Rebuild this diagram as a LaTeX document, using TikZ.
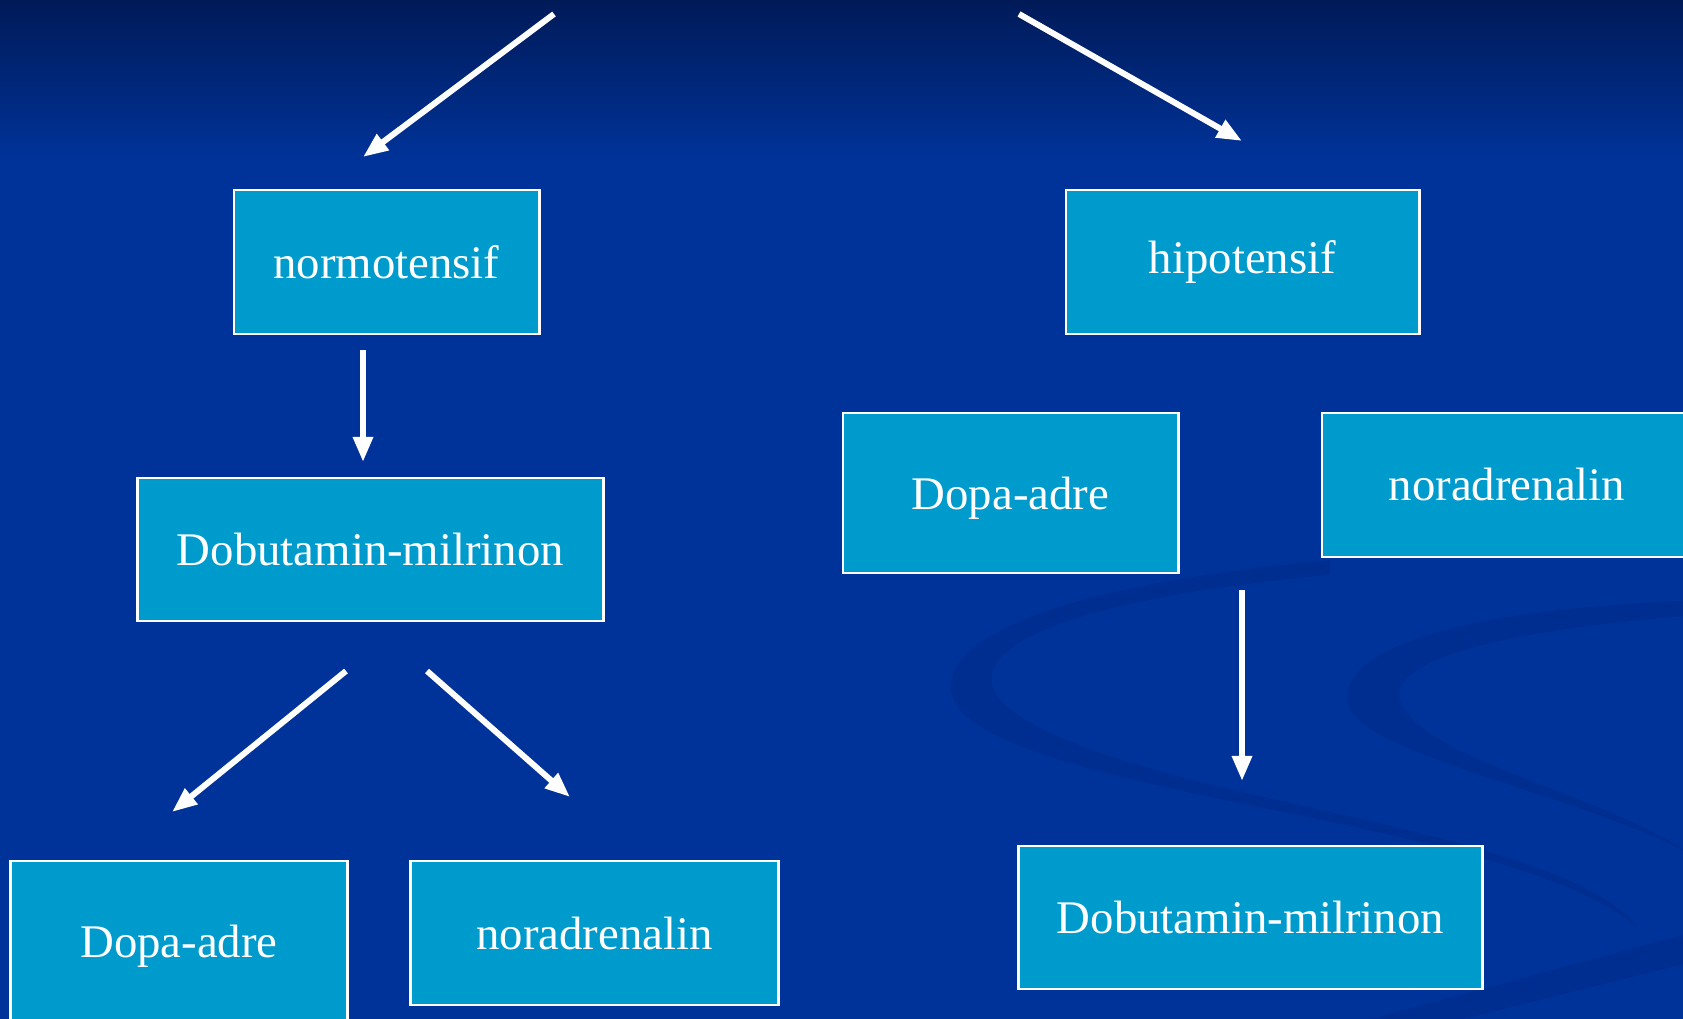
\documentclass[tikz,border=0pt]{standalone}
\usepackage{fontspec}
\setmainfont{Liberation Serif}
\usetikzlibrary{arrows.meta}
\definecolor{bgtop}{RGB}{0,26,88}
\definecolor{bgblue}{RGB}{0,51,153}
\definecolor{swoosh}{RGB}{0,44,138}
\definecolor{boxblue}{RGB}{0,155,205}
\tikzset{
    box/.style={draw=white, line width=0.8pt, fill=boxblue, text=white,
        font=\fontsize{13.3}{16}\selectfont, inner sep=0pt},
    tallbox/.style={box, text height=0.42cm},
    arr/.style={draw=white, line width=1.7pt, -{Triangle[length=0.25cm, width=0.19cm]}}
}
\begin{document}
\begin{tikzpicture}[x=0.01cm, y=-0.01cm]
    % Background
    \useasboundingbox (0,0) rectangle (1683,1019);
    \clip (0,0) rectangle (1683,1019);
    \fill[bgblue] (0,0) rectangle (1683,1019);
    \shade[top color=bgtop, bottom color=bgblue] (0,0) rectangle (1683,160);
    \fill[swoosh, opacity=0.6]
        (1330,560) .. controls (1000,590) and (920,660) .. (960,710)
        .. controls (1040,800) and (1520,820) .. (1640,930)
        .. controls (1560,820) and (1100,800) .. (1000,700)
        .. controls (960,650) and (1060,600) .. (1330,575) -- cycle;
    \fill[swoosh, opacity=0.6]
        (1700,600) .. controls (1420,610) and (1330,660) .. (1350,710)
        .. controls (1380,760) and (1600,800) .. (1700,860)
        .. controls (1600,790) and (1420,760) .. (1400,700)
        .. controls (1390,660) and (1500,630) .. (1700,615) -- cycle;
    \fill[swoosh, opacity=0.6] (1330,1030) -- (1700,930) -- (1700,960) -- (1420,1030) -- cycle;

    % Define boxes
    \node[box, minimum width=3.05cm, minimum height=1.44cm] (normo) at (386.5,262) {normotensif};
    \node[box, minimum width=3.53cm, minimum height=1.44cm] (hipo) at (1242.5,262) {hipotensif};
    \node[box, minimum width=4.65cm, minimum height=1.43cm] (dobL) at (370.5,549.5) {Dobutamin-milrinon};
    \node[tallbox, minimum width=3.35cm, minimum height=1.60cm] (dopaR) at (1010.5,493) {Dopa-adre};
    \node[box, minimum width=3.70cm, minimum height=1.44cm] (noraR) at (1507,485) {noradrenalin};
    \node[tallbox, minimum width=3.36cm, minimum height=1.60cm] (dopaL) at (179,941) {Dopa-adre};
    \node[box, minimum width=3.67cm, minimum height=1.44cm] (noraL) at (594.5,933) {noradrenalin};
    \node[box, minimum width=4.63cm, minimum height=1.43cm] (dobR) at (1250.5,917.5) {Dobutamin-milrinon};

    % Define arrow ends
    \coordinate (t1) at (554,14);
    \coordinate (h1) at (363,157);
    \coordinate (t2) at (1019,14);
    \coordinate (h2) at (1242,141);
    \coordinate (t3) at (363,350);
    \coordinate (h3) at (363,462);
    \coordinate (t4) at (346,671);
    \coordinate (h4) at (172,812);
    \coordinate (t5) at (427,671);
    \coordinate (h5) at (570,797);
    \coordinate (t6) at (1242,590);
    \coordinate (h6) at (1242,781);

    % Draw arrows
    \draw[arr] (t1) -- (h1);
    \draw[arr] (t2) -- (h2);
    \draw[arr] (t3) -- (h3);
    \draw[arr] (t4) -- (h4);
    \draw[arr] (t5) -- (h5);
    \draw[arr] (t6) -- (h6);
\end{tikzpicture}
\end{document}
